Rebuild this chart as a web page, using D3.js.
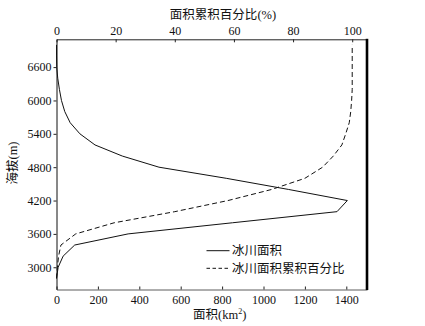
<!DOCTYPE html>
<html><head><meta charset="utf-8">
<script src="https://cdn.jsdelivr.net/npm/d3@7"></script>
<style>body{margin:0;background:#fff}svg{display:block}</style>
</head><body><div id="chart"></div>
<script>
const elevations = [2800,3000,3200,3400,3600,3800,4000,4200,4400,4600,4800,5000,5200,5400,5600,5800,6000,6200,6400,6600,6800,7000];
const areaValues = [0,8,32,88,346,850,1355,1405,1120,820,495,318,186,113,66,40,24,14,6,1,0,0];
const cumPercent = [0,0.3,0.7,1.5,6.5,19.5,40,58,72.8,84,90,93.6,96.5,97.8,99,99.5,99.8,100,100,100,100,100];
const bottomTicks = [0,200,400,600,800,1000,1200,1400];
const topTicks = [0,20,40,60,80,100];
const leftTicks = [3000,3600,4200,4800,5400,6000,6600];
const seriesNames = ["冰川面积","冰川面积累积百分比"];

const SERIF = "Liberation Serif";
const W=425,H=326, L=56.5, R=367, T=39.3, B=289.5;
const svg=d3.select("#chart").append("svg").attr("width",W).attr("height",H);
const x=d3.scaleLinear([0,1500],[L,R]);
const xt=d3.scaleLinear([0,105],[L,R]);
const y=d3.scaleLinear([2600,7100],[B,T]);
const fmt=d3.format("d");
const fs=12;
const gb=svg.append("g").attr("transform",`translate(0,${B})`)
  .call(d3.axisBottom(x).tickValues(bottomTicks).tickFormat(fmt).tickSizeInner(-3).tickSizeOuter(0).tickPadding(6));
gb.select(".domain").attr("stroke","#333").attr("stroke-width",0.8);
const gt=svg.append("g").attr("transform",`translate(0,${T})`)
  .call(d3.axisTop(xt).tickValues(topTicks).tickFormat(fmt).tickSizeInner(-3).tickSizeOuter(0).tickPadding(4));
const gl=svg.append("g").attr("transform",`translate(${L},0)`)
  .call(d3.axisLeft(y).tickValues(leftTicks).tickFormat(fmt).tickSizeInner(3).tickSizeOuter(0).tickPadding(2));
[gb,gt,gl].forEach(g=>{
  g.attr("font-family",SERIF).attr("font-size",fs);
  g.selectAll("text").attr("font-family",SERIF).attr("font-size",fs).attr("fill","#111");
  g.selectAll(".tick line").attr("stroke","#222");
});
gt.select(".domain").attr("stroke","#222");
gl.select(".domain").attr("stroke","#111");
svg.append("line").attr("x1",R).attr("x2",R).attr("y1",T-0.5).attr("y2",B+0.5).attr("stroke","#000").attr("stroke-width",2.6);

const data=elevations.map((e,i)=>({e,a:areaValues[i],p:cumPercent[i]}));
svg.append("path").datum(data).attr("fill","none").attr("stroke","#111").attr("stroke-width",1)
  .attr("d",d3.line().x(d=>x(d.a)).y(d=>y(d.e)));
svg.append("path").datum(data).attr("fill","none").attr("stroke","#111").attr("stroke-width",1).attr("stroke-dasharray","5,3")
  .attr("d",d3.line().x(d=>xt(d.p)).y(d=>y(d.e)));

const txt=(sel)=>sel.attr("font-family","Noto Sans CJK SC").attr("fill","#111");
const lat=(sel)=>sel.attr("font-family",SERIF);
const tt=txt(svg.append("text").attr("x",223).attr("y",19).attr("text-anchor","middle").attr("font-size",12.5));
tt.append("tspan").text("面积累积百分比");
lat(tt.append("tspan")).text("(%)");
const bt=txt(svg.append("text").attr("x",193).attr("y",319).attr("font-size",12.5));
bt.append("tspan").text("面积");
lat(bt.append("tspan")).text("(km");
lat(bt.append("tspan")).attr("font-size",8).attr("dy",-5).text("2");
lat(bt.append("tspan")).attr("dy",5).text(")");
const yt=txt(svg.append("text").attr("transform","translate(17,163) rotate(-90)").attr("text-anchor","middle").attr("font-size",12.5));
yt.append("tspan").text("海拔");
lat(yt.append("tspan")).text("(m)");

const lg=svg.append("g");
[0,1].forEach(i=>{
  const yy=[250.7,268.3][i];
  lg.append("line").attr("x1",206.5).attr("x2",229.5).attr("y1",yy).attr("y2",yy).attr("stroke","#111")
    .attr("stroke-dasharray",i?"3.5,2.5":null);
  txt(lg.append("text").attr("x",232).attr("y",yy+4.5).attr("font-size",12.5)).text(seriesNames[i]);
});
</script></body></html>
